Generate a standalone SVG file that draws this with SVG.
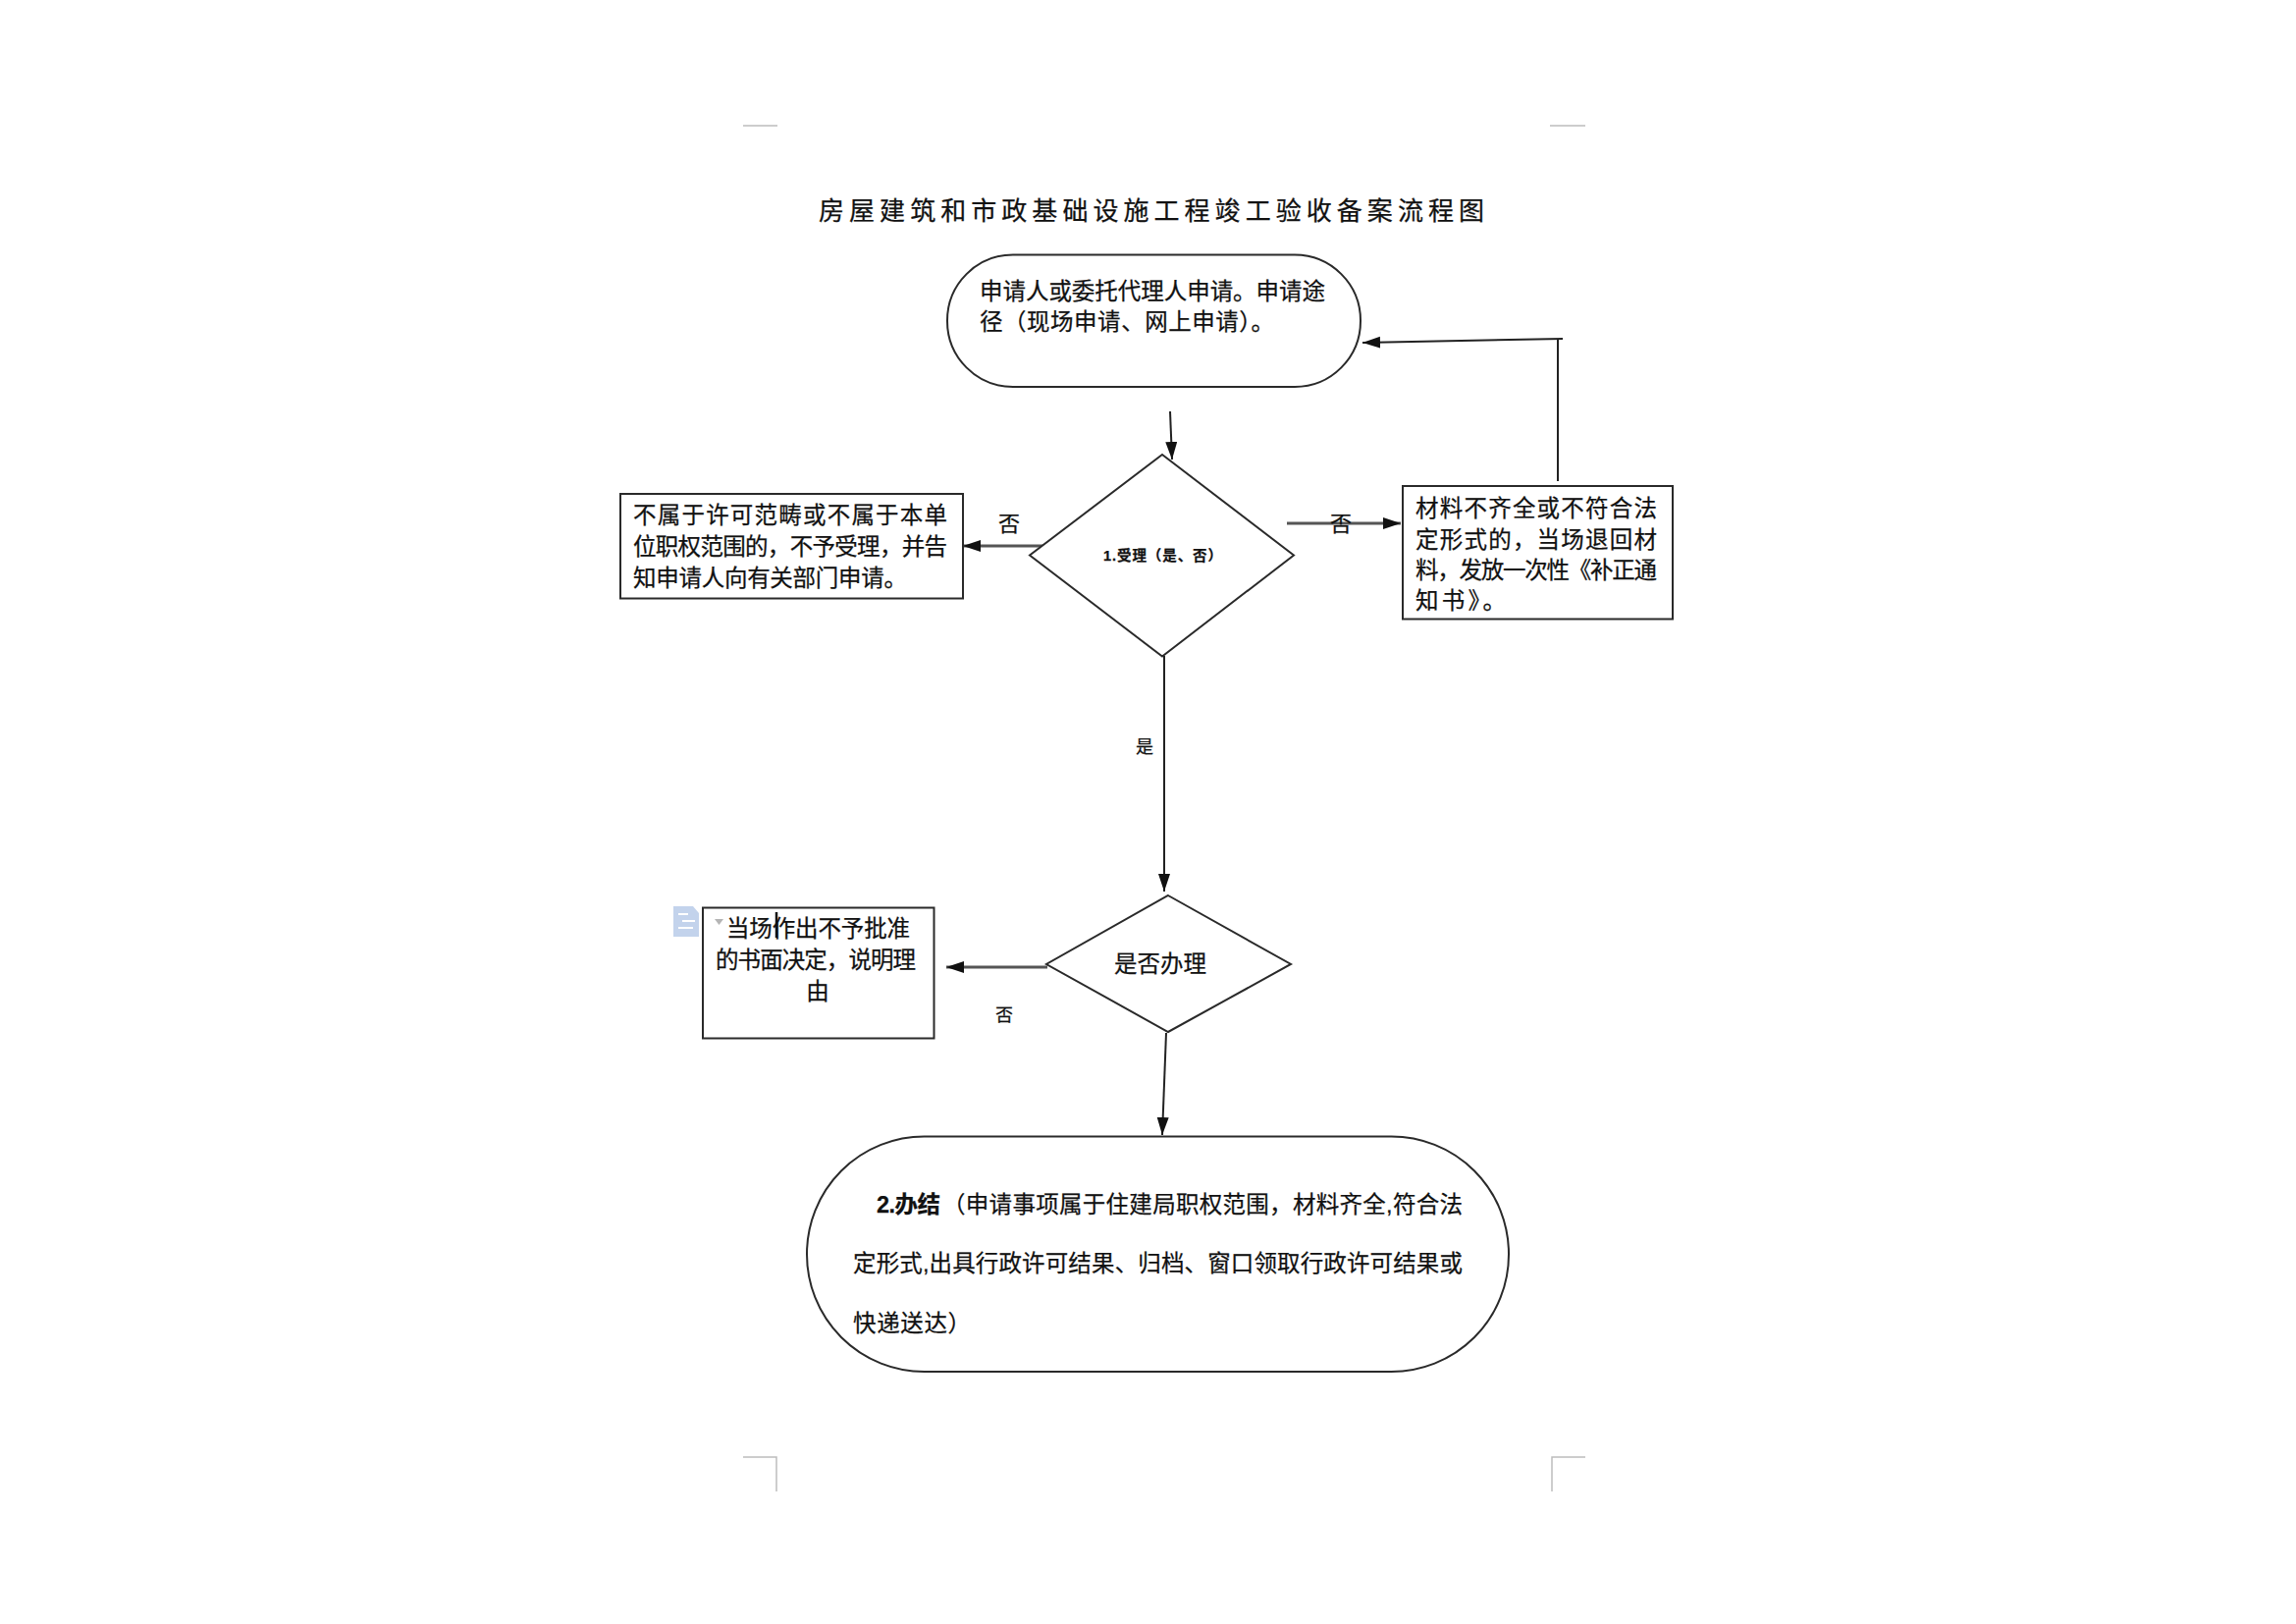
<svg xmlns="http://www.w3.org/2000/svg" width="2339" height="1654" viewBox="0 0 2339 1654">
<style>
text{font-family:"Liberation Sans","Noto Sans CJK SC",sans-serif;fill:#111;stroke:#111;stroke-width:.25px;font-size:23.5px}
.shape{fill:#fff;stroke:#2a2a2a;stroke-width:2}
.conn{fill:none;stroke:#222;stroke-width:2}
.thick{stroke:#555;stroke-width:3}
.crop{fill:none;stroke:#bdbdbd;stroke-width:1.5}
.b{font-weight:bold}
.c{text-anchor:middle}
</style>
<defs>
<marker id="arrow" markerUnits="userSpaceOnUse" markerWidth="20" markerHeight="14" refX="18" refY="6" orient="auto">
<path d="M0 0L18 6L0 12Z" fill="#111"/>
</marker>
</defs>
<rect width="2339" height="1654" fill="#fff"/>
<g id="crop-marks">
<path class="crop" d="M757 128H792M1579 128H1615M757 1484H791V1519M1615 1484H1581V1519"/>
</g>
<text id="title" x="834" y="224" style="font-size:26px" textLength="678" lengthAdjust="spacing">房屋建筑和市政基础设施工程竣工验收备案流程图</text>
<g id="connectors">
<path class="conn" marker-end="url(#arrow)" d="M1192 419L1194 468"/>
<path class="conn" d="M1587 345V490"/>
<path class="conn" marker-end="url(#arrow)" d="M1592 345L1388 349"/>
<path class="conn thick" marker-end="url(#arrow)" d="M1063 556H981"/>
<path class="conn thick" marker-end="url(#arrow)" d="M1311 533H1427"/>
<path class="conn" marker-end="url(#arrow)" d="M1186 668V908"/>
<path class="conn thick" marker-end="url(#arrow)" d="M1067 985H964"/>
<path class="conn" marker-end="url(#arrow)" d="M1188 1052L1184 1156"/>
</g>
<g id="n-apply">
<rect class="shape" x="965" y="259.500" width="421" height="134.500" rx="67" ry="67"/>
<text x="998" y="305" textLength="352">申请人或委托代理人申请。申请途</text>
<text x="998" y="336" textLength="300">径（现场申请、网上申请）。</text>
</g>
<g id="n-accept">
<polygon class="shape" points="1184,463 1318,565.500 1184,668.500 1049,565.500"/>
<text class="b" x="1124" y="571" style="font-size:14.5px" textLength="121">1.受理（是、否）</text>
</g>
<g id="n-reject">
<rect class="shape" x="632" y="503" width="349" height="106.500"/>
<text x="645" y="533" textLength="320">不属于许可范畴或不属于本单</text>
<text x="645" y="565" textLength="320">位职权范围的，不予受理，并告</text>
<text x="645" y="597" textLength="279">知申请人向有关部门申请。</text>
</g>
<g id="n-supplement">
<rect class="shape" x="1429" y="495" width="275" height="135.500"/>
<text x="1442" y="526" textLength="246">材料不齐全或不符合法</text>
<text x="1442" y="558" textLength="246">定形式的，当场退回材</text>
<text x="1442" y="589" textLength="246">料，发放一次性《补正通</text>
<text x="1442" y="620" textLength="92">知书》。</text>
</g>
<g id="n-handle">
<polygon class="shape" points="1190,912 1315,982 1190,1051 1066,982"/>
<text x="1135" y="990" textLength="94">是否办理</text>
</g>
<g id="n-refuse">
<path d="M686 923H706L712 930V954H686Z" fill="#c3d3ec"/>
<path d="M691 931H701M695 938H708M691 945H706" stroke="#fff" stroke-width="2" fill="none"/>
<rect class="shape" x="716" y="924.500" width="235.500" height="133"/>
<text x="740" y="954" textLength="187">当场作出不予批准</text>
<text x="729" y="986" textLength="204">的书面决定，说明理</text>
<text class="c" x="833" y="1018">由</text>
<path d="M728 936H737L732.500 942Z" fill="#b5b5b5"/>
<path d="M791 929V955" stroke="#111" stroke-width="2.500"/>
</g>
<g id="n-finish">
<rect class="shape" x="822" y="1157.500" width="715" height="239.500" rx="119.500" ry="119.500"/>
<text class="b" x="893" y="1235" textLength="65">2.办结</text>
<text x="960" y="1235" textLength="530">（申请事项属于住建局职权范围，材料齐全,符合法</text>
<text x="869" y="1295" textLength="621">定形式,出具行政许可结果、归档、窗口领取行政许可结果或</text>
<text x="869" y="1356" textLength="120">快递送达）</text>
</g>
<g id="edge-labels">
<text class="c" x="1028" y="541" style="font-size:22px">否</text>
<text class="c" x="1366" y="541" style="font-size:22px">否</text>
<text class="c" x="1166" y="767" style="font-size:18px">是</text>
<text class="c" x="1023" y="1040" style="font-size:18px">否</text>
</g>
</svg>
